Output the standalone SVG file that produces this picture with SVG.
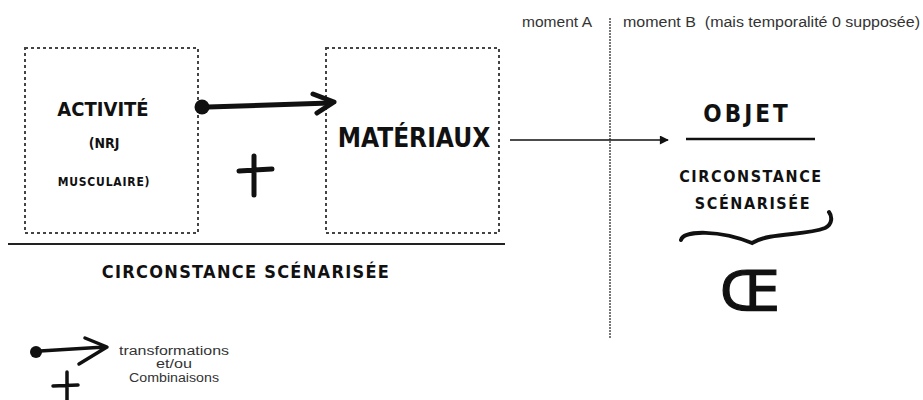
<svg xmlns="http://www.w3.org/2000/svg" width="923" height="400" viewBox="0 0 923 400">
<defs>
<style>
.hand{font-family:"DejaVu Sans Condensed","DejaVu Sans",sans-serif;font-weight:bold;fill:#111;text-anchor:middle}
.small{font-family:"Liberation Sans",Arial,sans-serif;font-size:14px;fill:#333}
.leg{font-family:"Liberation Sans",Arial,sans-serif;font-size:12.5px;fill:#333;text-anchor:middle}
.box{fill:none;stroke:#444;stroke-width:2;stroke-dasharray:3 3}
.thick{fill:none;stroke:#111;stroke-width:5;stroke-linecap:round;stroke-linejoin:round}
</style>
<marker id="tri" viewBox="0 0 10 10" refX="9" refY="5" markerWidth="12" markerHeight="9" markerUnits="userSpaceOnUse" orient="auto"><path d="M0,0 L10,5 L0,10 Z" fill="#111"/></marker>
</defs>
<rect width="923" height="400" fill="#fff"/>
<g id="activite">
<rect class="box" x="25" y="48" width="173" height="185"/>
<text class="hand" x="103" y="116" font-size="20">ACTIVITÉ</text>
<text class="hand" x="104" y="148" font-size="14">(NRJ</text>
<text class="hand" x="104" y="186" font-size="12" letter-spacing="0.8">MUSCULAIRE)</text>
</g>
<g id="materiaux">
<rect class="box" x="326" y="48" width="173" height="185"/>
<text class="hand" x="414" y="147" font-size="26">MATÉRIAUX</text>
</g>
<g id="plus1">
<path class="thick" d="M239,171 L272,169 M254,156 L254,195" stroke-width="4"/>
</g>
<g id="circonstance1">
<line x1="8" y1="244" x2="505" y2="244" stroke="#222" stroke-width="2"/>
<text class="hand" x="246" y="278" font-size="18" letter-spacing="1.3">CIRCONSTANCE SCÉNARISÉE</text>
</g>
<g id="moments">
<line x1="610" y1="18" x2="610" y2="338" stroke="#777" stroke-width="2" stroke-dasharray="2 1"/>
<text class="small" x="522" y="27" font-size="15" textLength="70" lengthAdjust="spacingAndGlyphs">moment A</text>
<text class="small" x="623" y="27" font-size="15" textLength="297" lengthAdjust="spacingAndGlyphs" xml:space="preserve">moment B  (mais temporalité 0 supposée)</text>
</g>
<g id="objet">
<text class="hand" x="747" y="122" font-size="24" letter-spacing="3">OBJET</text>
<line x1="686" y1="139" x2="815" y2="139" stroke="#111" stroke-width="2.5"/>
<text class="hand" x="751" y="182" font-size="16" letter-spacing="1.6">CIRCONSTANCE</text>
<text class="hand" x="753" y="209" font-size="16" letter-spacing="1.6">SCÉNARISÉE</text>
<path d="M681,240 C684,230 720,230 752,243 C770,232 805,236 825,228 C833,224 832,216 829,212" fill="none" stroke="#111" stroke-width="4" stroke-linecap="round"/>
<text x="750" y="310" font-size="56" stroke="#111" stroke-width="1.2" style="font-family:'DejaVu Sans',sans-serif;font-weight:normal;fill:#111;text-anchor:middle">Œ</text>
</g>
<g id="connectors">
<line x1="208" y1="107" x2="330" y2="103" class="thick"/>
<circle cx="202" cy="107" r="7.5" fill="#111"/>
<path class="thick" d="M313,94 L334,102 L317,113" stroke-width="4.5"/>
<line x1="510" y1="140" x2="668" y2="140" stroke="#111" stroke-width="1.5" marker-end="url(#tri)"/>
</g>
<g id="legende">
<circle cx="36" cy="352" r="6" fill="#111"/>
<path d="M40,351 L105,347 M85,338 L107,347 L79,364" fill="none" stroke="#111" stroke-width="3.5" stroke-linecap="round" stroke-linejoin="round"/>
<path d="M53,386 L78,385 M67,372 L67,400" fill="none" stroke="#111" stroke-width="3.5" stroke-linecap="round"/>
<text class="leg" x="174" y="355" textLength="110" lengthAdjust="spacingAndGlyphs">transformations</text>
<text class="leg" x="174" y="368" textLength="36" lengthAdjust="spacingAndGlyphs">et/ou</text>
<text class="leg" x="174" y="382" textLength="90" lengthAdjust="spacingAndGlyphs">Combinaisons</text>
</g>
</svg>
